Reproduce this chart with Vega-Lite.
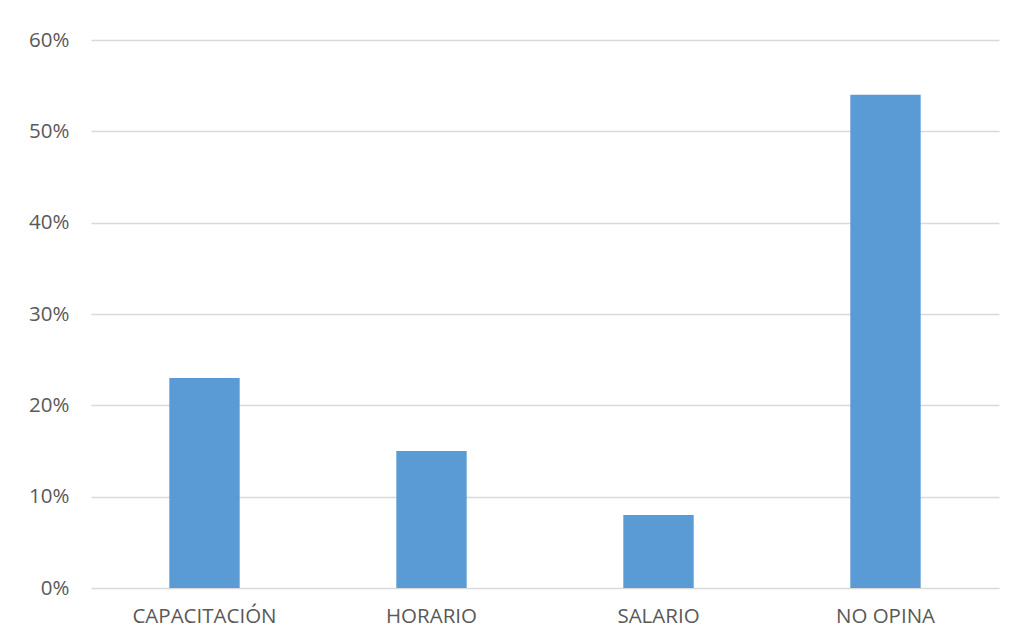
{
  "$schema": "https://vega.github.io/schema/vega-lite/v6.json",
  "width": 908,
  "height": 548,
  "autosize": {"type": "none"},
  "padding": {"left": 91, "top": 40, "right": 27, "bottom": 54},
  "background": "white",
  "config": {
    "view": {"stroke": null},
    "font": "Open Sans"
  },
  "data": {
    "values": [
      {"categoria": "CAPACITACIÓN", "valor": 0.23},
      {"categoria": "HORARIO", "valor": 0.15},
      {"categoria": "SALARIO", "valor": 0.08},
      {"categoria": "NO OPINA", "valor": 0.54}
    ]
  },
  "mark": {"type": "bar", "color": "#5B9BD5"},
  "encoding": {
    "x": {
      "field": "categoria",
      "type": "nominal",
      "sort": null,
      "scale": {"paddingInner": 0.69, "paddingOuter": 0.345},
      "axis": {
        "title": null,
        "labelAngle": 0,
        "labelFontSize": 20.5,
        "labelColor": "#595959",
        "labelPadding": 18,
        "ticks": false,
        "domain": false,
        "labelFont": "Open Sans"
      }
    },
    "y": {
      "field": "valor",
      "type": "quantitative",
      "scale": {"domain": [0, 0.6]},
      "axis": {
        "title": null,
        "format": ".0%",
        "values": [0, 0.1, 0.2, 0.3, 0.4, 0.5, 0.6],
        "labelFontSize": 20.5,
        "labelColor": "#595959",
        "labelPadding": 22,
        "ticks": false,
        "domain": false,
        "gridColor": "#D9D9D9",
        "gridWidth": 1.3,
        "labelFont": "Open Sans"
      }
    }
  }
}
